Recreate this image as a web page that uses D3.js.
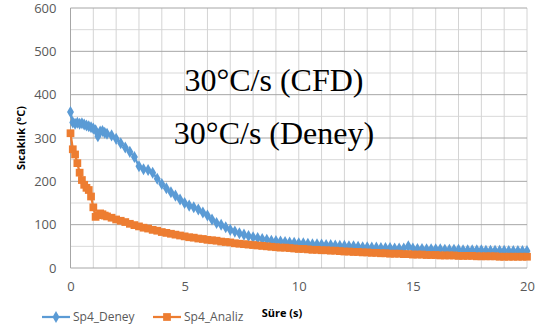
<!DOCTYPE html>
<html><head><meta charset="utf-8">
<script src="https://cdn.jsdelivr.net/npm/d3@7"></script>
<style>body{margin:0;background:#fff}svg{display:block}</style>
</head><body>
<svg id="c" width="551" height="331"></svg>
<script>
const times = [0,0.1,0.2,0.3,0.4,0.5,0.6,0.7,0.8,0.9,1.0,1.1,1.2,1.3,1.4,1.5,1.6,
1.8,2.0,2.2,2.4,2.6,2.8,3.0,3.2,3.4,3.6,3.8,4.0,4.2,4.4,4.6,4.8,5.0,5.2,5.4,5.6,5.8,6.0,
6.2,6.4,6.6,6.8,7.0,7.2,7.4,7.6,7.8,8.0,8.2,8.4,8.6,8.8,9.0,9.2,9.4,9.6,9.8,10.0,
10.2,10.4,10.6,10.8,11.0,11.2,11.4,11.6,11.8,12.0,12.2,12.4,12.6,12.8,13.0,13.2,13.4,13.6,13.8,14.0,
14.2,14.4,14.6,14.8,15.0,15.2,15.4,15.6,15.8,16.0,16.2,16.4,16.6,16.8,17.0,17.2,17.4,17.6,17.8,18.0,
18.2,18.4,18.6,18.8,19.0,19.2,19.4,19.6,19.8,20.0];
const deney = [360,336,333,335,333,334,331,329,327,325,322,318,304,315,316,312,310,
306,298,288,278,268,256,235,228,226,220,206,194,184,175,167,158,150,144,140,135,128,121,
112,104,100,94,88,84,80,77,74,71,69,67,65,63,62,61,60,59,58,57,
57,56,55,55,54,53,53,52,51,51,50,50,49,48,48,47,47,46,46,46,
45,45,45,50,45,44,44,43,43,43,43,42,42,42,42,41,41,41,41,41,
40,40,40,40,40,39,39,39,39,39];
const analiz = [311,274,262,242,220,203,192,185,180,165,140,118,122,126,124,121,119,
116,112,109,106,102,99,96,93,91,88,86,83,81,79,77,75,73,71,70,68,67,65,
64,63,61,60,59,57,56,55,54,53,52,51,50,49,48,47,47,46,45,44,
44,43,42,42,41,41,40,40,39,38,38,37,37,36,36,35,35,34,34,33,
33,33,32,32,31,31,31,30,30,30,29,29,29,29,28,28,28,28,27,27,
27,27,27,26,26,26,26,26,26,26];
const seriesNames = ["Sp4_Deney","Sp4_Analiz"];
const xTicks = [0,5,10,15,20];
const yTicks = [0,100,200,300,400,500,600];
const annotations = ["30°C/s (CFD)","30°C/s (Deney)"];
const colors = ["#5B9BD5","#ED7D31"];

const svg = d3.select("#c");
const L=70.5, R=527, T=8, B=268;
const x = d3.scaleLinear().domain([0,20]).range([L,R]);
const y = d3.scaleLinear().domain([0,600]).range([B,T]);
const font = "'Open Sans', sans-serif";

const g = svg.append("g");
g.selectAll("line.hmin").data(d3.range(50,600,100)).join("line")
  .attr("x1",L).attr("x2",R).attr("y1",d=>y(d)).attr("y2",d=>y(d))
  .attr("stroke","#d9d9d9").attr("stroke-width",1);
g.selectAll("line.v").data(d3.range(1,21,1)).join("line")
  .attr("x1",d=>x(d)).attr("x2",d=>x(d)).attr("y1",T).attr("y2",B)
  .attr("stroke","#d4d4d4").attr("stroke-width",1);
g.selectAll("line.hmaj").data(yTicks.slice(1)).join("line")
  .attr("x1",L).attr("x2",R).attr("y1",d=>y(d)).attr("y2",d=>y(d))
  .attr("stroke","#a6a6a6").attr("stroke-width",1);
svg.append("line").attr("x1",L).attr("x2",L).attr("y1",T).attr("y2",B).attr("stroke","#a6a6a6");
svg.append("line").attr("x1",L).attr("x2",R).attr("y1",B).attr("y2",B).attr("stroke","#a6a6a6");

const yAxis = d3.axisLeft(y).tickValues(yTicks).tickSize(0).tickPadding(14);
const ya = svg.append("g").attr("transform",`translate(${L},0)`).call(yAxis);
ya.select(".domain").remove();
ya.selectAll("text").attr("font-family",font).attr("font-size",13).attr("fill","#595959");
const xAxis = d3.axisBottom(x).tickValues(xTicks).tickSize(0).tickPadding(14);
const xa = svg.append("g").attr("transform",`translate(0,${B})`).call(xAxis);
xa.select(".domain").remove();
xa.selectAll("text").attr("font-family",font).attr("font-size",13).attr("fill","#595959");

svg.append("text").attr("x",274).attr("y",91).attr("text-anchor","middle")
  .attr("font-family","'Liberation Serif', 'Times New Roman', serif").attr("font-size",32).attr("fill","#000").text(annotations[0]);
svg.append("text").attr("x",274).attr("y",144).attr("text-anchor","middle")
  .attr("font-family","'Liberation Serif', 'Times New Roman', serif").attr("font-size",32).attr("fill","#000").text(annotations[1]);

const dataSets = [deney, analiz];
const line = d3.line().x((d,i)=>x(times[i])).y(d=>y(d));
const symbols = [d3.symbolDiamond, d3.symbolSquare];
const symSizes = [42, 60];
dataSets.forEach((vals,k)=>{
  svg.append("path").datum(vals).attr("d",line).attr("fill","none")
    .attr("stroke",colors[k]).attr("stroke-width",2.25);
  svg.append("g").selectAll("path").data(vals).join("path")
    .attr("transform",(d,i)=>`translate(${x(times[i])},${y(d)})`)
    .attr("d",d3.symbol().type(symbols[k]).size(symSizes[k]))
    .attr("fill",colors[k]);
});

svg.append("text").attr("transform","translate(25,138) rotate(-90)").attr("text-anchor","middle")
  .attr("font-family",font).attr("font-size",11).attr("font-weight","bold").attr("fill","#000").text("Sıcaklık (°C)");
svg.append("text").attr("x",282).attr("y",317).attr("text-anchor","middle")
  .attr("font-family",font).attr("font-size",11).attr("font-weight","bold").attr("fill","#000").text("Süre (s)");

const legX = [42,153];
seriesNames.forEach((n,k)=>{
  const lg = svg.append("g");
  lg.append("line").attr("x1",legX[k]).attr("x2",legX[k]+28).attr("y1",317).attr("y2",317)
    .attr("stroke",colors[k]).attr("stroke-width",2.25);
  lg.append("path").attr("transform",`translate(${legX[k]+14},317)`)
    .attr("d",d3.symbol().type(symbols[k]).size(symSizes[k])).attr("fill",colors[k]);
  lg.append("text").attr("x",legX[k]+31).attr("y",321).attr("font-family",font).attr("font-size",12)
    .attr("fill","#595959").text(n);
});
</script>
</body></html>
